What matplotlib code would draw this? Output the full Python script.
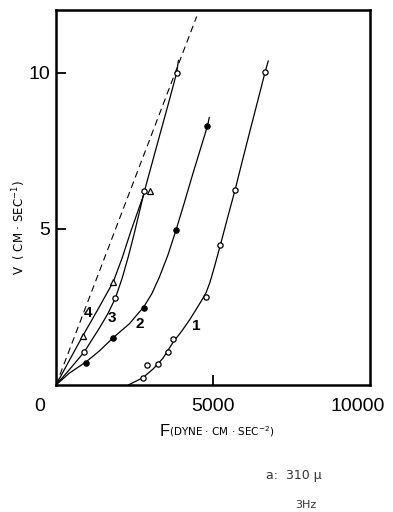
import matplotlib
matplotlib.use("Agg")
import matplotlib.pyplot as plt

# measured points (F in dyne, V in cm/sec)
f1 = [2760, 2908, 3239, 3556, 3736, 4777, 5223, 5701, 6656]
v1 = [0.22, 0.65, 0.66, 1.05, 1.46, 2.83, 4.48, 6.24, 10.01]
f2 = [955, 1826, 2793, 3822, 4819]
v2 = [0.72, 1.52, 2.48, 4.96, 8.28]
f3 = [900, 1890, 2813, 3843]
v3 = [1.06, 2.80, 6.22, 10.00]
f4 = [850, 1826, 2994]
v4 = [1.57, 3.31, 6.20]

# fitted curves
line1_f = [2300, 2761, 3099, 3400, 3736, 4000, 4250, 4450, 4620, 4777, 4900, 5050, 5223, 5460, 5701, 5940, 6178, 6420, 6656, 6761]
line1_v = [0.0, 0.23, 0.52, 0.85, 1.38, 1.72, 2.08, 2.40, 2.68, 2.95, 3.28, 3.80, 4.44, 5.34, 6.24, 7.20, 8.14, 9.08, 10.01, 10.38]
line2_f = [0, 424, 955, 1380, 1826, 2335, 2793, 3050, 3290, 3560, 3822, 4070, 4321, 4570, 4819, 4883]
line2_v = [0, 0.38, 0.74, 1.09, 1.52, 1.96, 2.50, 2.92, 3.45, 4.15, 4.96, 5.78, 6.64, 7.46, 8.28, 8.57]
line3_f = [0, 450, 900, 1380, 1650, 1890, 2100, 2300, 2494, 2813, 3080, 3330, 3590, 3843, 3900]
line3_v = [0, 0.52, 1.06, 1.82, 2.28, 2.78, 3.40, 4.10, 4.86, 6.20, 7.18, 8.10, 9.05, 10.0, 10.4]
line4_f = [0, 420, 850, 1350, 1826, 2100, 2389, 2620, 2830]
line4_v = [0, 0.78, 1.57, 2.45, 3.31, 4.05, 4.94, 5.60, 6.20]
dash_f = [0, 4480]
dash_v = [0, 11.80]

curve_labels = ["1", "2", "3", "4"]
label_pos = [(4480, 1.89), (2675, 1.95), (1770, 2.16), (1030, 2.30)]

fig = plt.figure(figsize=(3.93, 5.12), dpi=100)
ax = fig.add_axes([0.1425, 0.248, 0.799, 0.732])

ax.plot(dash_f, dash_v, color="black", lw=0.8, linestyle=(0, (6, 4)))
for lf, lv in [(line1_f, line1_v), (line2_f, line2_v), (line3_f, line3_v), (line4_f, line4_v)]:
    ax.plot(lf, lv, color="black", lw=0.9, solid_capstyle="round", solid_joinstyle="round")

ax.plot(f1, v1, "o", ms=3.8, mfc="white", mec="black", mew=0.9, zorder=4)
ax.plot(f3, v3, "o", ms=3.8, mfc="white", mec="black", mew=0.9, zorder=4)
ax.plot(f2, v2, "o", ms=3.8, mfc="black", mec="black", mew=0.9, zorder=4)
ax.plot(f4, v4, "^", ms=3.8, mfc="white", mec="black", mew=0.9, zorder=4)

for lab, (x, y) in zip(curve_labels, label_pos):
    ax.text(x, y, lab, fontsize=11, fontweight="bold", ha="center", va="center",
            family="Liberation Sans")

ax.set_xlim(0, 10000)
ax.set_ylim(0, 12)
ax.set_xticks([5000])
ax.set_xticklabels(["5000"], family="Liberation Sans", fontsize=14)
ax.set_yticks([5, 10])
ax.set_yticklabels(["5", "10"], family="Liberation Sans", fontsize=14)
ax.tick_params(axis="x", direction="in", length=7, width=1.3, pad=9)
ax.tick_params(axis="y", direction="in", length=7, width=1.3, pad=4)
for s in ax.spines.values():
    s.set_linewidth(1.8)

ax.text(-510, -0.68, "0", family="Liberation Sans", fontsize=14, ha="center", va="center")
ax.text(9620, -0.68, "10000", family="Liberation Sans", fontsize=14, ha="center", va="center")

fig.text(160 / 393, 1 - 432 / 512, "F", fontsize=12, family="Liberation Sans", va="center", ha="left")
fig.text(169 / 393, 1 - 432 / 512, "(DYNE · CM · SEC$^{-2}$)", fontsize=7.5,
         family="DejaVu Sans", va="center", ha="left")
fig.text(19 / 393, 1 - 228 / 512, "V  ( CM · SEC$^{-1}$)", fontsize=8.5, rotation=90,
         family="DejaVu Sans", va="center", ha="center")

fig.text(294 / 393, 1 - 475 / 512, "a:  310 μ", fontsize=9, family="DejaVu Sans",
         ha="center", va="center", color="#333333")
fig.text(306 / 393, 1 - 505 / 512, "3Hz", fontsize=8, family="DejaVu Sans",
         ha="center", va="center", color="#333333")

fig.savefig("out.png", dpi=100)
